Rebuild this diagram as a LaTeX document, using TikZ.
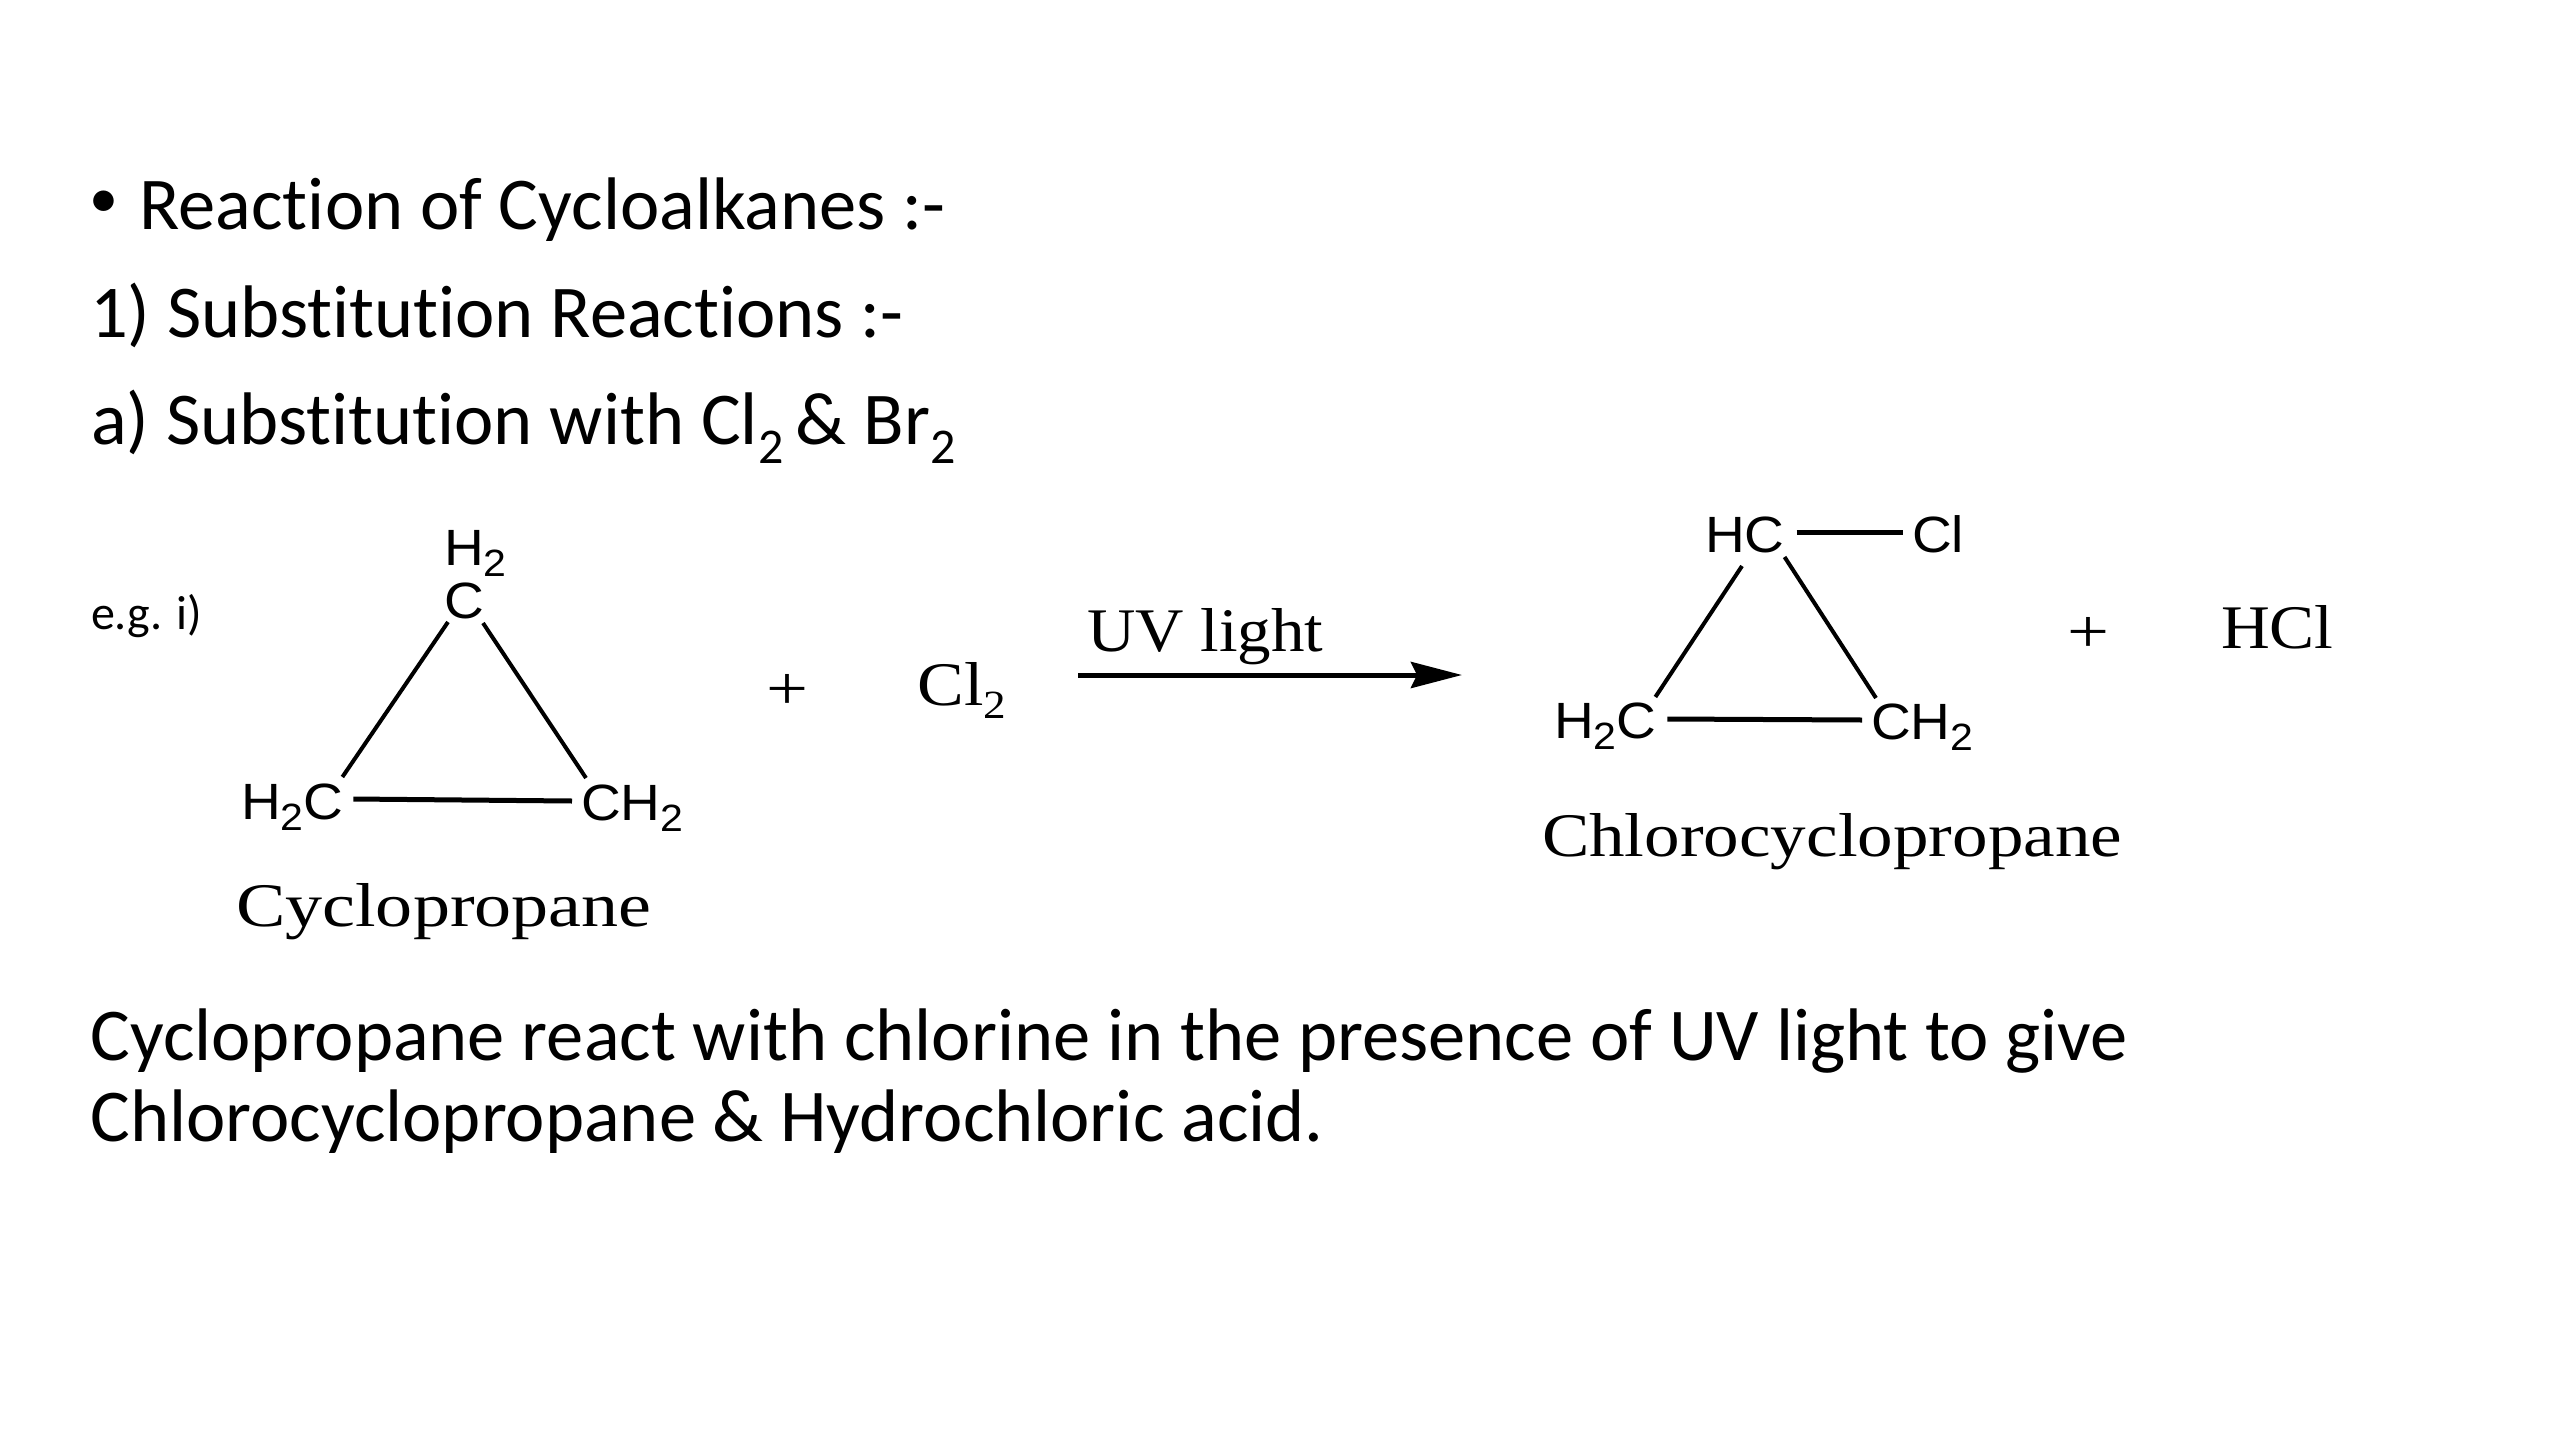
\documentclass[tikz,border=0pt]{standalone}
\usepackage{fontspec}
\setmainfont{Carlito}[Ligatures=NoCommon]
\newfontfamily\arialf{Liberation Sans}
\newfontfamily\timesf{Liberation Serif}
\usetikzlibrary{arrows.meta}
\newcommand\subC[1]{\raisebox{-19pt}{\fontsize{50}{50}\selectfont #1}}
\newcommand\subA[1]{\raisebox{-11pt}{\fontsize{38}{38}\selectfont #1}}
\newcommand\subT[1]{\raisebox{-13pt}{\fontsize{40}{40}\selectfont #1}}
\newcommand\sx[2]{\scalebox{#1}[1]{#2}}
\newcommand\ax[1]{\sx{1.08}{#1}}
\tikzset{
  x=1pt,y=-1pt,
  every node/.style={inner sep=0pt,outer sep=0pt,anchor=base west,text=black},
  slide/.style={font=\fontsize{74.5}{74.5}\selectfont},
  bulletmark/.style={font=\fontsize{58}{58}\selectfont,anchor=center},
  small/.style={font=\fontsize{48}{48}\selectfont},
  atom/.style={font=\arialf\fontsize{51}{51}\selectfont},
  serif/.style={font=\timesf\fontsize{62}{62}\selectfont},
  bond/.style={draw=black,line width=4pt},
  hbond/.style={draw=black,line width=5pt},
  rarrow/.style={draw=black,line width=5pt,-{Stealth[length=51pt,width=26pt,inset=6pt]}}
}
\begin{document}
\begin{tikzpicture}
\useasboundingbox (0,0) rectangle (2560,1440);
\fill[white] (0,0) rectangle (2560,1440);
\node[bulletmark] (bullet) at (104,204) {•};
\node[slide] (l1) at (139.5,229) {Reaction of Cycloalkanes :-};
\node[slide] (l2) at (90,337) {1) Substitution Reactions :-};
\node[slide] (l3) at (91,444) {a) Substitution with Cl\subC{2}\,\&\ Br\subC{2}};
\node[small] (eg) at (91,629) {e.g. i)};
% cyclopropane
\node[atom] (h2) at (444,565) {\ax{H\subA{2}}};
\node[atom] (ca) at (444,618) {\ax{C}};
\node[atom] (cb) at (241,819) {\ax{H\subA{2}C}};
\node[atom] (cc) at (581,820) {\ax{CH\subA{2}}};
\node[serif] (name1) at (236,926) {\sx{1.195}{Cyclopropane}};
\draw[bond] ([shift={(4,4)}]ca.base west) -- ([shift={(-1,-42)}]cb.base east);
\draw[bond] ([shift={(39,5)}]ca.base west) -- ([shift={(5,-42)}]cc.base west);
\draw[hbond] ([shift={(10,-20)}]cb.base east) -- ([shift={(-9,-19)}]cc.base west);
\node[serif] (plus1) at (766,709) {\sx{1.2}{+}};
\node[serif] (cl2) at (917.5,705) {\sx{1.13}{Cl\subT{2}}};
% arrow
\node[serif] (uv) at (1087,651) {\sx{1.08}{UV light}};
\coordinate (as) at (1078,675);
\coordinate (ae) at (1462,675);
\draw[rarrow] (as) -- (ae);
% chlorocyclopropane
\node[atom] (hc) at (1705,552) {\ax{HC}};
\node[atom] (cl) at (1912,552) {\ax{Cl}};
\node[atom] (db) at (1554,738) {\ax{H\subA{2}C}};
\node[atom] (dc) at (1871,739) {\ax{CH\subA{2}}};
\node[serif] (name2) at (1542,856) {\sx{1.146}{Chlorocyclopropane}};
\draw[hbond] ([shift={(12,-20)}]hc.base east) -- ([shift={(-9,-20)}]cl.base west);
\draw[bond] ([shift={(37,14)}]hc.base west) -- ([shift={(-1,-41)}]db.base east);
\draw[bond] ([shift={(0,5)}]hc.base east) -- ([shift={(5,-41)}]dc.base west);
\draw[hbond] ([shift={(11,-19)}]db.base east) -- ([shift={(-9,-19)}]dc.base west);
\node[serif] (plus2) at (2067,652) {\sx{1.2}{+}};
\node[serif] (hcl) at (2221,648) {\sx{1.09}{HCl}};
% paragraph
\node[slide] (p1) at (90.5,1060.5) {Cyclopropane react with chlorine in the presence of UV light to give};
\node[slide] (p2) at (90.5,1141.5) {Chlorocyclopropane \& Hydrochloric acid.};
\end{tikzpicture}
\end{document}
